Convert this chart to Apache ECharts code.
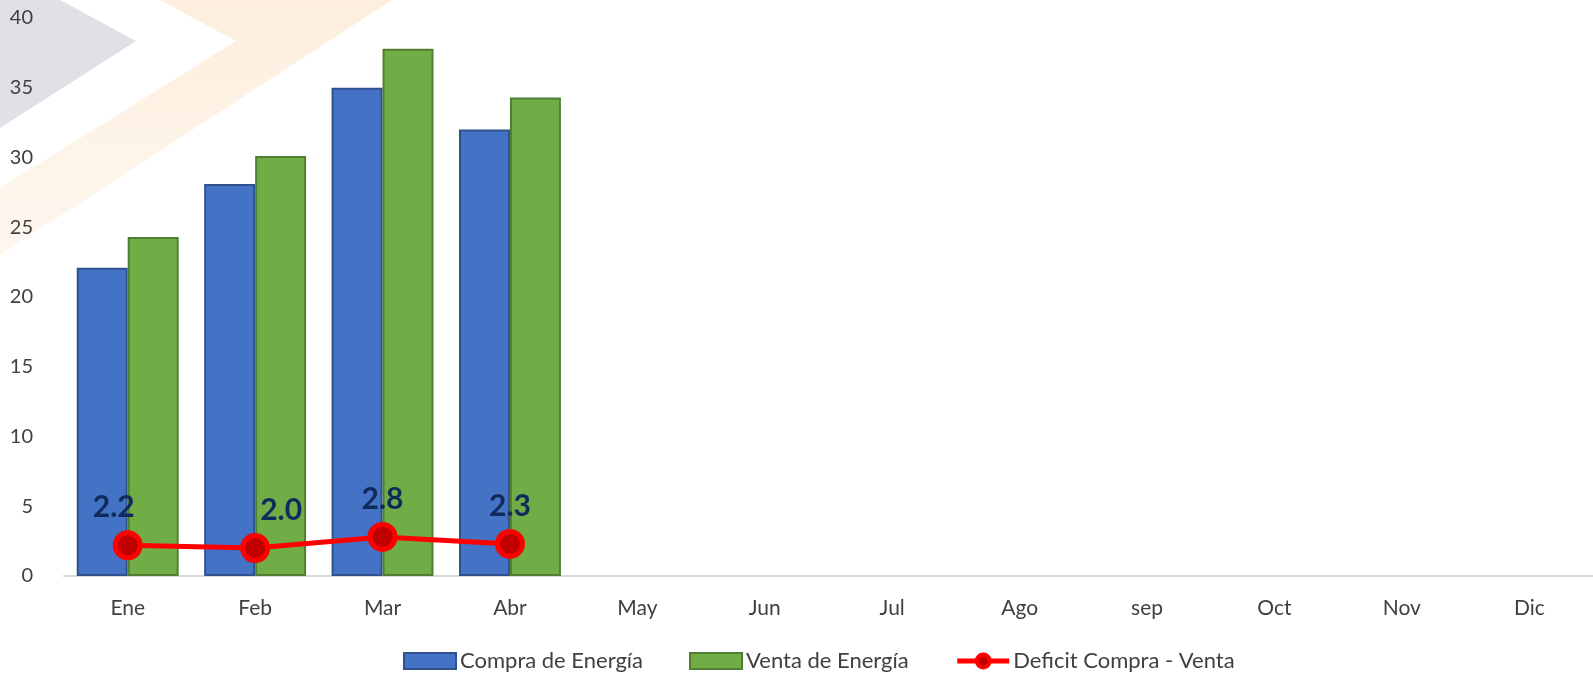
<!DOCTYPE html>
<html>
<head>
<meta charset="utf-8">
<script src="https://cdn.jsdelivr.net/npm/echarts@6/dist/echarts.min.js"></script>
<style>
html,body{margin:0;padding:0;background:#fff;}
#chart{width:1593px;height:673px;}
</style>
</head>
<body>
<div id="chart"></div>
<script>
// 月份
var months = ['Ene','Feb','Mar','Abr','May','Jun','Jul','Ago','sep','Oct','Nov','Dic'];
// 各系列数值
var compra  = [22.1, 28.1, 35.0, 32.0];
var venta   = [24.3, 30.1, 37.8, 34.3];
var deficit = [2.2, 2.0, 2.8, 2.3];
var seriesNames = ['Compra de Energía','Venta de Energía','Deficit Compra - Venta'];

var FONT = 'Lato, "Open Sans", sans-serif';
var chart = echarts.init(document.getElementById('chart'));

// 标签微调(样式)
var labelNudge = [[-14,0],[26,0],[0,0],[0,0]];
var deficitData = [];
for (var i=0;i<deficit.length;++i) {
	deficitData.push({value: deficit[i], label: {offset: labelNudge[i] || [0,0]}});
}

var option = {
	backgroundColor: '#fff',
	textStyle: {fontFamily: FONT},
	graphic: [
		{	// 背景水印
			type: 'polygon', silent: true, z: -10,
			shape: {points: [[0,0],[60,0],[136,41],[0,128]]},
			style: {fill: '#dfe1e7'}
		},
		{
			type: 'polygon', silent: true, z: -10,
			shape: {points: [[160,0],[392,0],[0,255],[0,188],[236,41]]},
			style: {fill: new echarts.graphic.LinearGradient(0,0,0,1,[
				{offset:0, color:'#fdeedd'},
				{offset:1, color:'rgba(253,238,221,0.45)'}
			])}
		}
	],
	grid: {left: 64, top: 18, width: 1532, bottom: 97},
	legend: {
		left: 398, top: 645,
		itemWidth: 52, itemHeight: 16, itemGap: 46,
		textStyle: {fontSize: 22, color: '#404040', fontFamily: FONT, padding: [0,0,0,-1]},
		data: [
			{name: seriesNames[0], icon: 'rect'},
			{name: seriesNames[1], icon: 'rect'},
			{name: seriesNames[2], lineStyle: {width: 5, color: '#ff0000'},
			 itemStyle: {color: '#c00000', borderColor: '#ff0000', borderWidth: 4}}
		]
	},
	xAxis: {
		type: 'category',
		data: months,
		axisLine: {lineStyle: {color: '#d9d9d9', width: 2}},
		axisTick: {show: false},
		axisLabel: {fontSize: 21, color: '#404040', margin: 22, fontFamily: FONT}
	},
	yAxis: {
		type: 'value',
		min: 0, max: 40, interval: 5,
		axisLine: {show: false},
		axisTick: {show: false},
		splitLine: {show: false},
		axisLabel: {fontSize: 20, color: '#404040', margin: 31, fontFamily: FONT}
	},
	series: [
		{
			name: seriesNames[0], type: 'bar',
			data: compra,
			barGap: '0%', barCategoryGap: '20%',
			itemStyle: {color: '#4472c4', borderColor: '#2f528f', borderWidth: 2}
		},
		{
			name: seriesNames[1], type: 'bar',
			data: venta,
			itemStyle: {color: '#70ad47', borderColor: '#507e32', borderWidth: 2}
		},
		{
			name: seriesNames[2], type: 'line',
			data: deficitData,
			z: 5,
			symbol: 'circle', symbolSize: 25,
			lineStyle: {color: '#ff0000', width: 5},
			itemStyle: {color: '#c00000', borderColor: '#ff0000', borderWidth: 5},
			label: {
				show: true, position: 'top', distance: 8,
				fontSize: 30, fontWeight: 'bold', color: '#112a5c', fontFamily: FONT,
				formatter: function(p){ return p.value.toFixed(1); }
			}
		}
	]
};
chart.setOption(option);
</script>
</body>
</html>
